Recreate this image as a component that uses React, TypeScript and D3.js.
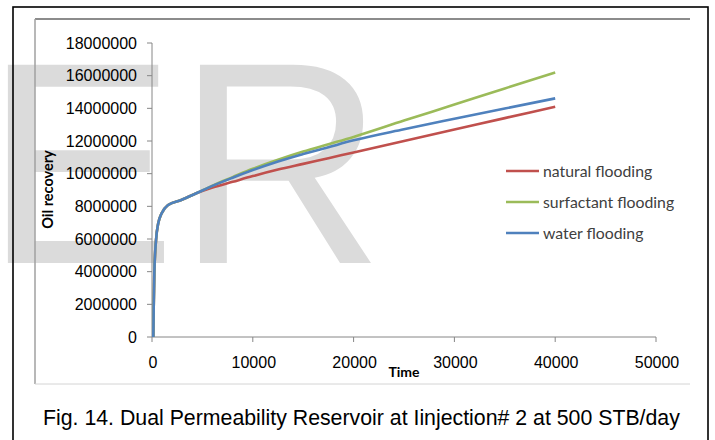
import React from "react";
import * as d3 from "d3";

const times = [130, 170, 230, 400, 620, 960, 1600, 2900, 4400, 6000, 8000, 10000, 12500, 15000, 17500, 20000, 25000, 30000, 35000, 40000];
const natural = [0, 1860000, 3900000, 5940000, 6960000, 7570000, 8080000, 8390000, 8800000, 9150000, 9500000, 9850000, 10250000, 10600000, 10950000, 11300000, 12000000, 12700000, 13400000, 14100000];
const surfactant = [0, 1860000, 3900000, 5940000, 6960000, 7570000, 8080000, 8390000, 8800000, 9270000, 9790000, 10300000, 10850000, 11350000, 11800000, 12250000, 13250000, 14230000, 15220000, 16200000];
const water = [0, 1860000, 3900000, 5940000, 6960000, 7570000, 8080000, 8390000, 8800000, 9250000, 9750000, 10220000, 10750000, 11200000, 11620000, 12040000, 12720000, 13360000, 13990000, 14610000];

const seriesNames = ["natural flooding", "surfactant flooding", "water flooding"];
const seriesColors = ["#C0504D", "#9BBB59", "#4F81BD"];
const seriesValues = [natural, surfactant, water];

const yTicks = [0, 2000000, 4000000, 6000000, 8000000, 10000000, 12000000, 14000000, 16000000, 18000000];
const xTicks = [0, 10000, 20000, 30000, 40000, 50000];

const caption = "Fig. 14. Dual Permeability Reservoir at Iinjection# 2 at 500 STB/day";

export default function App() {
  const x = d3.scaleLinear().domain([0, 50000]).range([152, 656]);
  const y = d3.scaleLinear().domain([0, 18000000]).range([337, 43]);
  const line = d3
    .line<number>()
    .x((_, i) => x(times[i]))
    .y((d) => y(d))
    .curve(d3.curveMonotoneX);

  return (
    <svg
      width={715}
      height={440}
      style={{ position: "absolute", left: 0, top: 0, background: "#fff" }}
    >
      <rect x={0} y={0} width={715} height={440} fill="#fff" />
      {/* watermark */}
      <text
        x={-15.75}
        y={263}
        fontFamily="Liberation Sans, Arial, sans-serif"
        fontSize={288}
        fill="#dbdbdb"
      >
        ER
      </text>
      {/* outer border */}
      <rect x={13} y={7} width={695} height={450} fill="none" stroke="#000" strokeWidth={1.6} />
      {/* inner chart frame */}
      <line x1={35} y1={19} x2={690} y2={19} stroke="#8c8c8c" strokeWidth={2} />
      <line x1={35} y1={19} x2={35} y2={384} stroke="#a0a0a0" strokeWidth={1.5} />
      <line x1={35} y1={384} x2={690} y2={384} stroke="#d4d4d4" strokeWidth={1} />

      {/* axes */}
      <line x1={152} y1={y(18000000)} x2={152} y2={y(0)} stroke="#868686" strokeWidth={1} />
      <line x1={152} y1={y(0)} x2={x(50000)} y2={y(0)} stroke="#868686" strokeWidth={1} />
      {yTicks.map((t) => (
        <g key={"y" + t}>
          <line x1={147} x2={152} y1={y(t)} y2={y(t)} stroke="#868686" />
          <text
            x={137}
            y={y(t) + 5.7}
            textAnchor="end"
            fontFamily="Liberation Sans, Arial, sans-serif"
            fontSize={16}
            fill="#000"
          >
            {t}
          </text>
        </g>
      ))}
      {xTicks.map((t) => (
        <g key={"x" + t}>
          <line x1={x(t)} x2={x(t)} y1={y(0)} y2={y(0) + 5} stroke="#868686" />
          <text
            x={x(t) + 1}
            y={367.5}
            textAnchor="middle"
            fontFamily="Liberation Sans, Arial, sans-serif"
            fontSize={16}
            fill="#000"
          >
            {t}
          </text>
        </g>
      ))}

      {/* axis titles */}
      <text
        transform="translate(53,189.5) rotate(-90)"
        textAnchor="middle"
        fontFamily="Lato, sans-serif"
        fontWeight="bold"
        fontSize={14.5}
        fill="#000"
      >
        Oil recovery
      </text>
      <text
        x={404}
        y={377}
        textAnchor="middle"
        fontFamily="Lato, sans-serif"
        fontWeight="bold"
        fontSize={14}
        fill="#000"
      >
        Time
      </text>

      {/* series */}
      {seriesValues.map((vals, i) => (
        <path
          key={seriesNames[i]}
          d={line(vals) || ""}
          fill="none"
          stroke={seriesColors[i]}
          strokeWidth={2.6}
          strokeLinejoin="round"
        />
      ))}

      {/* legend */}
      {seriesNames.map((n, i) => (
        <g key={"leg" + n}>
          <line
            x1={506}
            x2={539}
            y1={171 + i * 31}
            y2={171 + i * 31}
            stroke={seriesColors[i]}
            strokeWidth={2.6}
          />
          <text
            x={543}
            y={176.5 + i * 31}
            fontFamily="Lato, sans-serif"
            fontSize={15.8}
            fill="#404040"
          >
            {n}
          </text>
        </g>
      ))}

      {/* caption */}
      <text
        x={43}
        y={425}
        fontFamily="Liberation Sans, Arial, sans-serif"
        fontSize={21.3}
        fill="#000"
      >
        {caption}
      </text>
    </svg>
  );
}
